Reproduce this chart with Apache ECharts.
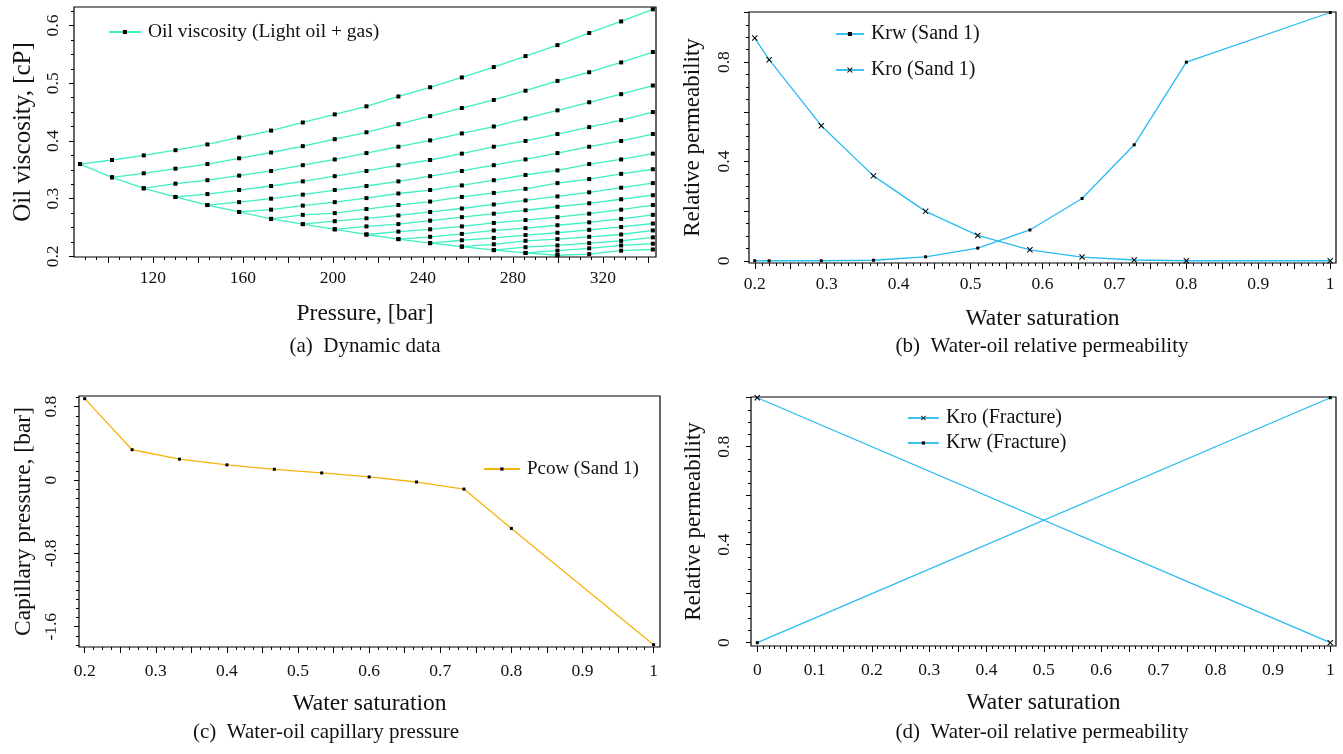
<!DOCTYPE html>
<html><head><meta charset="utf-8">
<script src="https://cdn.jsdelivr.net/npm/echarts@6/dist/echarts.min.js"></script>
<style>html,body{margin:0;padding:0;background:#fff}#c{width:1343px;height:754px}</style>
</head><body><div id="c"></div>
<script>
// ---------- (a) Dynamic data ----------
const pressure = [87.6, 101.8, 115.9, 130.0, 144.2, 158.3, 172.5, 186.6, 200.8, 214.9, 229.1, 243.2, 257.3, 271.5, 285.6, 299.8, 313.9, 328.1, 342.2];
const satViscosity = [0.360, 0.337, 0.318, 0.303, 0.289, 0.277, 0.265, 0.256, 0.247, 0.238, 0.230, 0.223, 0.217, 0.211, 0.206, 0.202];
const usat0 = [0.360, 0.367, 0.375, 0.384, 0.394, 0.406, 0.418, 0.432, 0.446, 0.460, 0.477, 0.493, 0.510, 0.528, 0.547, 0.566, 0.587, 0.607, 0.628];
const usat1 = [0.337, 0.344, 0.352, 0.360, 0.370, 0.380, 0.391, 0.403, 0.415, 0.429, 0.443, 0.457, 0.471, 0.487, 0.504, 0.519, 0.536, 0.554];
const usat2 = [0.318, 0.326, 0.332, 0.340, 0.348, 0.358, 0.368, 0.379, 0.390, 0.401, 0.413, 0.425, 0.439, 0.453, 0.467, 0.481, 0.496];
const usat3 = [0.303, 0.308, 0.315, 0.322, 0.330, 0.339, 0.348, 0.358, 0.367, 0.378, 0.390, 0.400, 0.412, 0.424, 0.436, 0.450];
const usat4 = [0.289, 0.294, 0.300, 0.307, 0.315, 0.322, 0.330, 0.339, 0.348, 0.358, 0.368, 0.379, 0.390, 0.400, 0.412];
const usat5 = [0.277, 0.281, 0.288, 0.294, 0.301, 0.309, 0.315, 0.323, 0.332, 0.341, 0.349, 0.360, 0.368, 0.378];
const usat6 = [0.265, 0.272, 0.275, 0.282, 0.289, 0.295, 0.303, 0.310, 0.317, 0.327, 0.334, 0.343, 0.351];
const usat7 = [0.256, 0.261, 0.266, 0.271, 0.277, 0.283, 0.290, 0.297, 0.304, 0.311, 0.319, 0.327];
const usat8 = [0.247, 0.252, 0.256, 0.262, 0.268, 0.274, 0.280, 0.286, 0.292, 0.299, 0.306];
const usat9 = [0.238, 0.243, 0.247, 0.252, 0.258, 0.263, 0.268, 0.274, 0.281, 0.289];
const usat10 = [0.230, 0.234, 0.239, 0.245, 0.249, 0.254, 0.259, 0.265, 0.272];
const usat11 = [0.223, 0.228, 0.232, 0.237, 0.241, 0.246, 0.251, 0.257];
const usat12 = [0.217, 0.221, 0.227, 0.230, 0.234, 0.238, 0.245];
const usat13 = [0.211, 0.216, 0.219, 0.223, 0.227, 0.233];
const usat14 = [0.206, 0.210, 0.214, 0.219, 0.222];
const usat15 = [0.202, 0.204, 0.210, 0.212];
const undersaturated = [usat0, usat1, usat2, usat3, usat4, usat5, usat6, usat7, usat8, usat9, usat10, usat11, usat12, usat13, usat14, usat15];
const pressureTickLabels = [120, 160, 200, 240, 280, 320];
const viscosityTickLabels = [0.2, 0.3, 0.4, 0.5, 0.6];

// ---------- (b) Water-oil relative permeability (Sand 1) ----------
const swSand = [0.2, 0.22, 0.2925, 0.365, 0.4375, 0.51, 0.5825, 0.655, 0.7275, 0.8, 1.0];
const krwSand = [0, 0, 0, 0.002, 0.016, 0.051, 0.124, 0.251, 0.467, 0.8, 1.0];
const kroSand = [0.897, 0.81, 0.544, 0.342, 0.199, 0.102, 0.044, 0.015, 0.003, 0, 0];

// ---------- (c) Water-oil capillary pressure ----------
const swPc = [0.2, 0.2667, 0.3333, 0.4, 0.4667, 0.5333, 0.6, 0.6667, 0.7333, 0.8, 1.0];
const pcow = [0.887, 0.33, 0.227, 0.165, 0.117, 0.077, 0.033, -0.022, -0.099, -0.528, -1.796];
const pcTickLabels = [-1.6, -0.8, 0, 0.8];

// ---------- (d) Fracture relative permeability ----------
const swFrac = [0, 1];
const kroFrac = [1, 0];
const krwFrac = [0, 1];

const swTickLabels = [0.2, 0.3, 0.4, 0.5, 0.6, 0.7, 0.8, 0.9, 1];
const swFracTickLabels = [0, 0.1, 0.2, 0.3, 0.4, 0.5, 0.6, 0.7, 0.8, 0.9, 1];
const krTickLabels = [0, 0.4, 0.8];

// ---------- styling / helpers ----------
const FONT = 'Liberation Serif';
const TXT = '#111';
const MINT = '#3ef0c4';
const SKY = '#27bcef';
const AMBER = '#f5b40c';
const CROSS = 'path://M0,1.2L1.2,0L5,3.8L8.8,0L10,1.2L6.2,5L10,8.8L8.8,10L5,6.2L1.2,10L0,8.8L3.8,5Z';

function seq(a, b, step) { const r = []; const n = Math.round((b - a) / step); for (let i = 0; i <= n; i++) r.push(+(a + i * step).toFixed(6)); return r; }

const grids = [
  {left: 74, top: 7, width: 582, height: 250},
  {left: 749, top: 12, width: 587, height: 251},
  {left: 79, top: 396, width: 581, height: 251},
  {left: 751, top: 397, width: 585, height: 249}
];

const xAxes = [], yAxes = [];
function addAxes(gi, cfg) {
  const common = {type: 'value', gridIndex: gi, splitLine: {show: false}, axisLine: {show: false, onZero: false}};
  xAxes.push(Object.assign({}, common, {
    position: 'bottom', min: cfg.xr[0], max: cfg.xr[1], name: cfg.xName, nameLocation: 'middle', nameGap: cfg.xGap,
    nameTextStyle: {fontFamily: FONT, fontSize: 23.5, color: TXT},
    axisTick: {show: true, length: 6, customValues: cfg.xMaj, lineStyle: {color: '#000'}},
    axisLabel: {customValues: cfg.xLab, fontFamily: FONT, fontSize: 17.5, color: TXT, margin: cfg.xMargin}
  }));
  xAxes.push(Object.assign({}, common, {
    position: 'bottom', min: cfg.xr[0], max: cfg.xr[1],
    axisTick: {show: true, length: 3, customValues: cfg.xMin, lineStyle: {color: '#000'}},
    axisLabel: {show: false}
  }));
  yAxes.push(Object.assign({}, common, {
    position: 'left', min: cfg.yr[0], max: cfg.yr[1], name: cfg.yName, nameLocation: 'middle', nameGap: cfg.yGap,
    nameTextStyle: {fontFamily: FONT, fontSize: cfg.yNameSize, color: TXT},
    axisTick: {show: true, length: 5, customValues: cfg.yMaj, lineStyle: {color: '#000'}},
    axisLabel: {customValues: cfg.yLab, fontFamily: FONT, fontSize: 17.5, color: TXT, rotate: 90, margin: cfg.yMargin}
  }));
  yAxes.push(Object.assign({}, common, {
    position: 'left', min: cfg.yr[0], max: cfg.yr[1],
    axisTick: {show: true, length: 3, customValues: cfg.yMin, lineStyle: {color: '#000'}},
    axisLabel: {show: false}
  }));
}

addAxes(0, {xr: [84.9, 343.6], yr: [0.199, 0.632], xLab: pressureTickLabels, xMaj: seq(100, 340, 20), xMin: seq(90, 340, 5),
  yLab: viscosityTickLabels, yMaj: viscosityTickLabels, yMin: seq(0.2, 0.625, 0.025),
  xName: 'Pressure, [bar]', yName: 'Oil viscosity, [cP]', xGap: 45, yGap: 38, yNameSize: 25, xMargin: 12, yMargin: 12});
addAxes(1, {xr: [0.192, 1.008], yr: [-0.009, 1.002], xLab: swTickLabels, xMaj: seq(0.2, 1.0, 0.05), xMin: seq(0.2, 1.0, 0.01),
  yLab: krTickLabels, yMaj: seq(0, 1, 0.2), yMin: seq(0, 1, 0.05),
  xName: 'Water saturation', yName: 'Relative permeability', xGap: 44, yGap: 45, yNameSize: 23, xMargin: 12, yMargin: 16});
addAxes(2, {xr: [0.192, 1.009], yr: [-1.821, 0.916], xLab: swTickLabels, xMaj: seq(0.2, 1.0, 0.05), xMin: seq(0.2, 1.0, 0.0125),
  yLab: pcTickLabels, yMaj: pcTickLabels, yMin: seq(-1.8, 0.9, 0.1),
  xName: 'Water saturation', yName: 'Capillary pressure, [bar]', xGap: 45, yGap: 43, yNameSize: 23.5, xMargin: 15, yMargin: 19});
addAxes(3, {xr: [-0.011, 1.01], yr: [-0.0135, 1.003], xLab: swFracTickLabels, xMaj: seq(0, 1, 0.05), xMin: seq(0, 1, 0.01),
  yLab: krTickLabels, yMaj: seq(0, 1, 0.2), yMin: seq(0, 1, 0.05),
  xName: 'Water saturation', yName: 'Relative permeability', xGap: 45, yGap: 46, yNameSize: 23, xMargin: 15, yMargin: 18});

const series = [];
const LEG_A = 'Oil viscosity (Light oil + gas)';
function lineSeries(name, gi, data, color, symbol, size) {
  return {
    type: 'line', name: name, xAxisIndex: gi * 2, yAxisIndex: gi * 2, data: data,
    symbol: symbol, symbolSize: size, showSymbol: true, showAllSymbol: true,
    itemStyle: {color: '#000'}, lineStyle: {color: color, width: 1.3},
    emphasis: {disabled: true}, animation: false, silent: true
  };
}
series.push(lineSeries(LEG_A, 0, satViscosity.map((v, i) => [pressure[i], v]), MINT, 'rect', 4));
undersaturated.forEach((arr, k) => {
  series.push(lineSeries(LEG_A, 0, arr.map((v, i) => [pressure[i + k], v]), MINT, 'rect', 4));
});
series.push(lineSeries('Krw (Sand 1)', 1, krwSand.map((v, i) => [swSand[i], v]), SKY, 'rect', 3));
series.push(lineSeries('Kro (Sand 1)', 1, kroSand.map((v, i) => [swSand[i], v]), SKY, CROSS, 6));
series.push(lineSeries('Pcow (Sand 1)', 2, pcow.map((v, i) => [swPc[i], v]), AMBER, 'rect', 3));
series.push(lineSeries('Kro (Fracture)', 3, kroFrac.map((v, i) => [swFrac[i], v]), SKY, CROSS, 6));
series.push(lineSeries('Krw (Fracture)', 3, krwFrac.map((v, i) => [swFrac[i], v]), SKY, 'rect', 3));

function leg(name, left, cy, w, h, fs) {
  return {data: [name], left: left, top: cy - 11, itemWidth: w, itemHeight: h, itemGap: 0,
          selectedMode: false, padding: 0,
          lineStyle: {width: 1.8},
          textStyle: {fontFamily: FONT, fontSize: fs, color: TXT, padding: [0, 0, 0, 2], height: 22, lineHeight: 22}};
}

const caption = (t, x, y) => ({type: 'text', x: x, y: y,
  style: {text: t, fontFamily: FONT, fontSize: 21, fill: TXT, align: 'center', verticalAlign: 'middle'}});

const option = {
  animation: false,
  backgroundColor: '#fff',
  grid: grids.map(g => Object.assign({show: true, borderColor: '#000', borderWidth: 1.2, backgroundColor: 'transparent', containLabel: false}, g)),
  xAxis: xAxes,
  yAxis: yAxes,
  legend: [
    leg(LEG_A, 108, 32, 32, 5, 19.5),
    leg('Krw (Sand 1)', 835, 34, 28, 5, 20),
    leg('Kro (Sand 1)', 835, 70, 28, 7, 20),
    leg('Pcow (Sand 1)', 483, 469, 36, 4, 19),
    leg('Kro (Fracture)', 907, 418, 31, 6, 20),
    leg('Krw (Fracture)', 907, 443, 31, 4, 20)
  ],
  series: series,
  graphic: [
    caption('(a)  Dynamic data', 365, 346),
    caption('(b)  Water-oil relative permeability', 1042, 346),
    caption('(c)  Water-oil capillary pressure', 326, 732),
    caption('(d)  Water-oil relative permeability', 1042, 732)
  ]
};

const chart = echarts.init(document.getElementById('c'), null, {renderer: 'canvas'});
chart.setOption(option);
</script>
</body></html>
